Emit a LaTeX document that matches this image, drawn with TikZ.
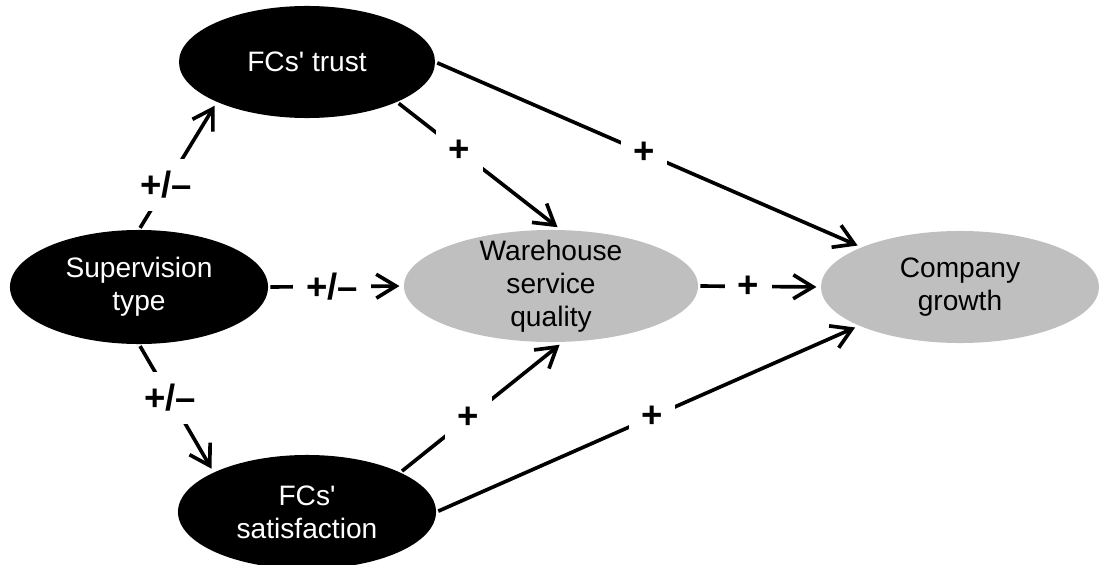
\documentclass[tikz,border=0pt]{standalone}
\usepackage{fontspec}
\setmainfont{Liberation Sans}
\usetikzlibrary{arrows.meta,shapes.geometric}
\definecolor{nodegray}{RGB}{191,191,191}
\begin{document}
\begin{tikzpicture}[x=0.025cm,y=-0.025cm,
  ell/.style={ellipse, inner sep=0pt, draw=none},
  dark/.style={ell, fill=black},
  light/.style={ell, fill=nodegray},
  txt/.style={align=center, inner sep=0pt, font=\fontsize{20}{23.5}\selectfont},
  wtxt/.style={txt, text=white},
  btxt/.style={txt, text=black},
  link/.style={line width=2.6pt, -{Straight Barb[length=14pt,width=17pt]}, shorten >=3pt, shorten <=1.5pt},
  lbl/.style={fill=white, font=\bfseries\fontsize{26}{30}\selectfont, inner xsep=9pt, inner ysep=9pt}]
\useasboundingbox (0,0) rectangle (1099,565);

\node[dark, minimum width=6.4cm, minimum height=2.8cm] (trust) at (307,62) {};
\node[wtxt] (trustt) at (trust.center) {FCs\textquotesingle{} trust};
\node[dark, minimum width=6.45cm, minimum height=2.85cm] (sup) at (139,287) {};
\node[wtxt] (supt) at (sup.center) {Supervision\\type};
\node[dark, minimum width=6.45cm, minimum height=2.85cm] (sat) at (307,512) {};
\node[wtxt] (satt) at (sat.center) {FCs\textquotesingle\\satisfaction};
\node[light, minimum width=7.35cm, minimum height=2.8cm] (wh) at (551,286) {};
\node[btxt] (wht) at (wh.center) {Warehouse\\service\\quality};
\node[light, minimum width=6.95cm, minimum height=2.8cm] (cg) at (960,287) {};
\node[btxt] (cgt) at (cg.center) {Company\\growth};

\draw[link] (sup.90) -- node[lbl, pos=0.35] {+/–} (trust.204);
\draw[link] (sup.270) -- node[lbl, pos=0.42] {+/–} (sat.157);
\draw[link] (sup.east) -- node[lbl, pos=0.47] {+/–} (wh.west);
\draw[link] (trust.336) -- node[lbl, pos=0.38] {+} (wh.80);
\draw[link] (sat.23) -- node[lbl, pos=0.42] {+} (wh.282);
\draw[link] (trust.east) -- node[lbl, pos=0.49] {+} (cg.158);
\draw[link] (sat.east) -- node[lbl, pos=0.51] {+} (cg.201);
\draw[link] (wh.east) -- node[lbl, pos=0.41] {+} (cg.west);
\end{tikzpicture}
\end{document}
